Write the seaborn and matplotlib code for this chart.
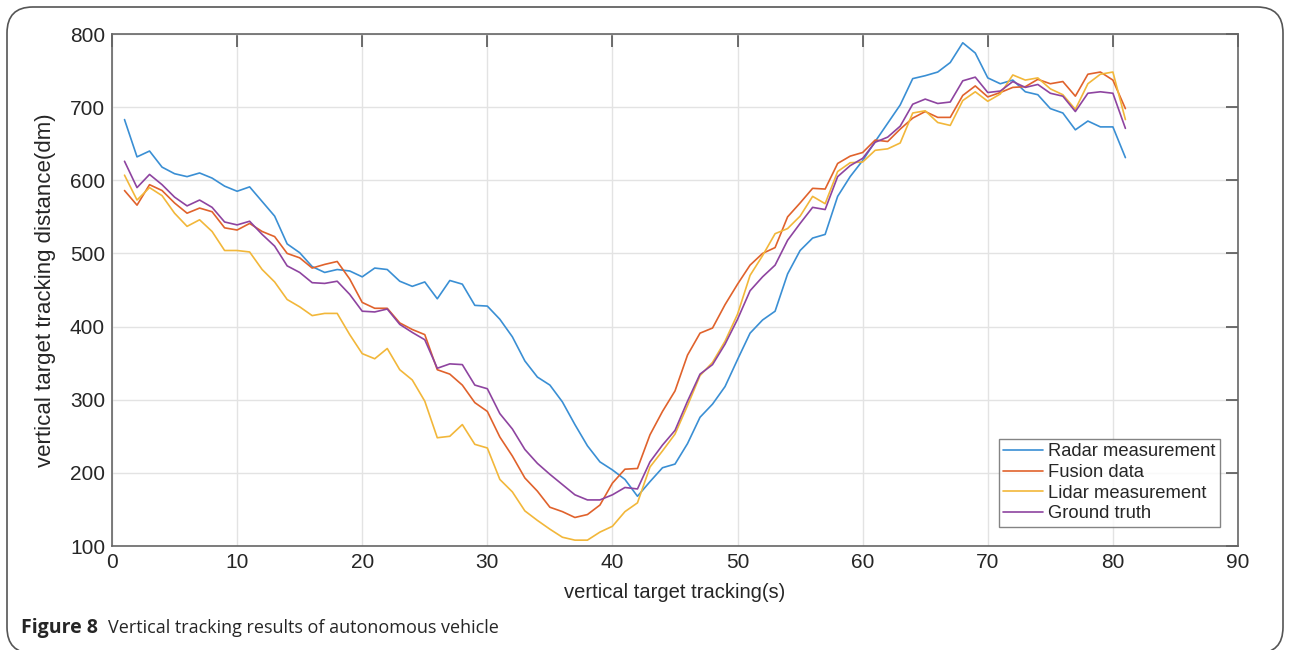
#!/usr/bin/env python3

import matplotlib
matplotlib.use('Agg')
import matplotlib.pyplot as plt
from matplotlib.patches import FancyBboxPatch
import pandas as pd
import seaborn as sns

# time steps (s)
t = list(range(1, 82))

radar = [683, 632, 640, 618, 609, 605, 610, 603, 592, 585,
         591, 571, 551, 513, 501, 482, 474, 478, 476, 468,
         480, 478, 462, 455, 461, 438, 463, 458, 429, 428,
         410, 386, 353, 331, 320, 297, 266, 237, 215, 204,
         191, 168, 188, 207, 212, 240, 276, 294, 318, 355,
         391, 409, 421, 472, 504, 521, 526, 578, 605, 627,
         653, 678, 703, 739, 743, 748, 761, 788, 774, 740,
         732, 737, 721, 717, 698, 692, 669, 681, 673, 673,
         631]

fusion = [586, 566, 594, 586, 569, 555, 562, 557, 535, 532,
          541, 530, 523, 500, 494, 480, 485, 489, 465, 433,
          425, 425, 405, 396, 389, 341, 335, 320, 296, 284,
          249, 223, 193, 175, 153, 147, 139, 143, 156, 186,
          205, 206, 252, 284, 312, 361, 391, 398, 430, 458,
          484, 500, 508, 550, 569, 589, 588, 623, 633, 638,
          655, 653, 670, 685, 694, 686, 686, 716, 729, 714,
          720, 727, 728, 738, 732, 735, 715, 745, 748, 737,
          698]

lidar = [607, 573, 590, 579, 555, 537, 546, 530, 504, 504,
         502, 478, 461, 437, 427, 415, 418, 418, 389, 363,
         356, 370, 341, 327, 298, 248, 250, 266, 239, 234,
         191, 174, 148, 135, 123, 112, 108, 108, 119, 127,
         147, 159, 208, 230, 253, 292, 333, 351, 380, 417,
         470, 497, 527, 534, 551, 578, 568, 612, 624, 625,
         641, 643, 651, 692, 695, 679, 675, 709, 721, 708,
         718, 744, 737, 740, 725, 717, 697, 732, 745, 748,
         683]

truth = [626, 590, 608, 594, 577, 565, 573, 563, 543, 539,
         544, 526, 510, 483, 474, 460, 459, 462, 444, 421,
         420, 424, 403, 392, 382, 343, 349, 348, 320, 315,
         281, 260, 232, 213, 198, 184, 170, 163, 163, 170,
         180, 178, 215, 238, 258, 298, 335, 348, 376, 410,
         449, 468, 484, 518, 541, 563, 560, 605, 620, 630,
         652, 659, 674, 704, 711, 705, 707, 736, 741, 720,
         722, 735, 727, 731, 719, 715, 694, 719, 721, 719,
         671]

names = ['Radar measurement', 'Fusion data', 'Lidar measurement', 'Ground truth']
colors = ['#3a8fd4', '#e0622c', '#f2b73a', '#8e44a0']

df = pd.concat([
    pd.DataFrame({'t': t, 'dist': v, 'series': n})
    for n, v in zip(names, [radar, fusion, lidar, truth])
])

sns.set_style('white')
plt.rcParams['font.family'] = ['Liberation Sans', 'DejaVu Sans']

fig = plt.figure(figsize=(12.9, 6.5), dpi=100)
ax = fig.add_axes([112 / 1290, 1 - 546 / 650, (1238 - 112) / 1290, (546 - 34) / 650])

sns.lineplot(data=df, x='t', y='dist', hue='series', hue_order=names,
             palette=colors, linewidth=1.2, ax=ax)

ax.set_xlim(0, 90)
ax.set_ylim(100, 800)
ax.set_xticks(range(0, 91, 10))
ax.set_yticks(range(100, 801, 100))
ax.grid(True, color='#e3e3e3', linewidth=1)
ax.tick_params(direction='in', length=9, width=1.2, color='#555555',
               labelsize=15, top=True, right=True, pad=5)
for s in ax.spines.values():
    s.set_color('#666666')
    s.set_linewidth(1.2)

ax.set_xlabel('vertical target tracking(s)', fontsize=14.5, labelpad=8)
ax.set_ylabel('vertical target tracking distance(dm)', fontsize=16, labelpad=10)

leg = ax.legend(loc='lower right', bbox_to_anchor=(0.984, 0.037), fontsize=13.2,
                frameon=True, fancybox=False, edgecolor='#666666',
                borderpad=0.25, labelspacing=0.2, handlelength=2.2,
                handletextpad=0.25, borderaxespad=0)
leg.get_frame().set_linewidth(1.0)

# outer frame and caption
frame = FancyBboxPatch((7 / 1290, -0.005), 1276 / 1290, 1 - 7 / 650 + 0.005,
                       boxstyle='round,pad=0,rounding_size=0.02',
                       transform=fig.transFigure, fill=False,
                       edgecolor='#555555', linewidth=1.2, mutation_aspect=2)
fig.patches.append(frame)

fig.text(21 / 1290, 1 - 628 / 650, 'Figure 8', fontsize=14, fontweight='bold',
         family=['Open Sans', 'DejaVu Sans'], va='center', ha='left')
fig.text(108 / 1290, 1 - 628 / 650, 'Vertical tracking results of autonomous vehicle',
         fontsize=13, family=['Open Sans', 'DejaVu Sans'], va='center', ha='left')

fig.savefig('out.png', dpi=100)
